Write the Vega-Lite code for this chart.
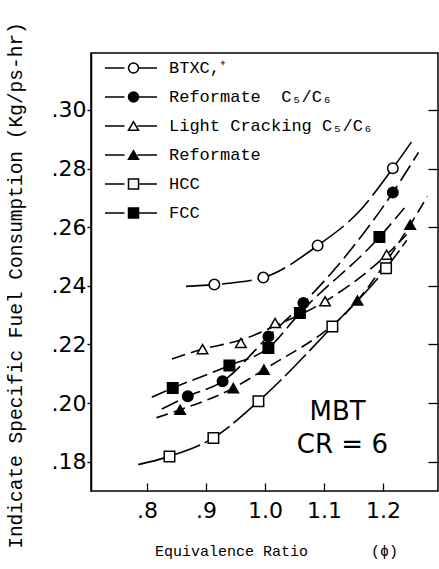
{
  "$schema": "https://vega.github.io/schema/vega-lite/v6.json",
  "width": 347,
  "height": 438,
  "autosize": "none",
  "padding": {"left": 91, "top": 53, "right": 1, "bottom": 78},
  "background": "white",
  "config": {
    "view": {"stroke": "black", "strokeWidth": 1.5},
    "axis": {"grid": false, "domainColor": "black", "tickColor": "black", "labelColor": "black", "titleColor": "black", "domainWidth": 1.5, "tickWidth": 1.3}
  },
  "resolve": {"axis": {"y": "independent"}},
  "datasets": {
    "points": [
      {"series": "BTXC,⁺", "phi": 0.914, "isfc": 0.2404},
      {"series": "BTXC,⁺", "phi": 0.997, "isfc": 0.2428},
      {"series": "BTXC,⁺", "phi": 1.089, "isfc": 0.2537},
      {"series": "BTXC,⁺", "phi": 1.2165, "isfc": 0.2801},
      {"series": "Reformate\u00a0 C₅/C₆", "phi": 0.869, "isfc": 0.2023},
      {"series": "Reformate\u00a0 C₅/C₆", "phi": 0.928, "isfc": 0.2074},
      {"series": "Reformate\u00a0 C₅/C₆", "phi": 1.0056, "isfc": 0.2227},
      {"series": "Reformate\u00a0 C₅/C₆", "phi": 1.065, "isfc": 0.2341},
      {"series": "Reformate\u00a0 C₅/C₆", "phi": 1.2165, "isfc": 0.2718},
      {"series": "Light Cracking C₅/C₆", "phi": 0.894, "isfc": 0.2184},
      {"series": "Light Cracking C₅/C₆", "phi": 0.959, "isfc": 0.2205},
      {"series": "Light Cracking C₅/C₆", "phi": 1.017, "isfc": 0.2273},
      {"series": "Light Cracking C₅/C₆", "phi": 1.1017, "isfc": 0.2347},
      {"series": "Light Cracking C₅/C₆", "phi": 1.206, "isfc": 0.2506},
      {"series": "Reformate", "phi": 0.856, "isfc": 0.1977},
      {"series": "Reformate", "phi": 0.946, "isfc": 0.2051},
      {"series": "Reformate", "phi": 0.998, "isfc": 0.2114},
      {"series": "Reformate", "phi": 1.1565, "isfc": 0.235},
      {"series": "Reformate", "phi": 1.2458, "isfc": 0.2608},
      {"series": "HCC", "phi": 0.838, "isfc": 0.1818},
      {"series": "HCC", "phi": 0.9124, "isfc": 0.1881},
      {"series": "HCC", "phi": 0.9887, "isfc": 0.2006},
      {"series": "HCC", "phi": 1.114, "isfc": 0.2261},
      {"series": "HCC", "phi": 1.205, "isfc": 0.246},
      {"series": "FCC", "phi": 0.8435, "isfc": 0.2051},
      {"series": "FCC", "phi": 0.9395, "isfc": 0.2128},
      {"series": "FCC", "phi": 1.0056, "isfc": 0.2188},
      {"series": "FCC", "phi": 1.059, "isfc": 0.2307},
      {"series": "FCC", "phi": 1.1937, "isfc": 0.2566}
    ],
    "curves": [
      {"series": "BTXC,⁺", "phi": 0.866, "isfc": 0.2398},
      {"series": "BTXC,⁺", "phi": 0.914, "isfc": 0.2404},
      {"series": "BTXC,⁺", "phi": 0.997, "isfc": 0.2428},
      {"series": "BTXC,⁺", "phi": 1.089, "isfc": 0.2537},
      {"series": "BTXC,⁺", "phi": 1.16, "isfc": 0.2655},
      {"series": "BTXC,⁺", "phi": 1.2165, "isfc": 0.2801},
      {"series": "BTXC,⁺", "phi": 1.253, "isfc": 0.2905},
      {"series": "Reformate\u00a0 C₅/C₆", "phi": 0.825, "isfc": 0.198},
      {"series": "Reformate\u00a0 C₅/C₆", "phi": 0.869, "isfc": 0.2023},
      {"series": "Reformate\u00a0 C₅/C₆", "phi": 0.928, "isfc": 0.2074},
      {"series": "Reformate\u00a0 C₅/C₆", "phi": 1.0056, "isfc": 0.2227},
      {"series": "Reformate\u00a0 C₅/C₆", "phi": 1.065, "isfc": 0.2341},
      {"series": "Reformate\u00a0 C₅/C₆", "phi": 1.14, "isfc": 0.251},
      {"series": "Reformate\u00a0 C₅/C₆", "phi": 1.2165, "isfc": 0.2718},
      {"series": "Reformate\u00a0 C₅/C₆", "phi": 1.26, "isfc": 0.2855},
      {"series": "Light Cracking C₅/C₆", "phi": 0.842, "isfc": 0.215},
      {"series": "Light Cracking C₅/C₆", "phi": 0.894, "isfc": 0.2184},
      {"series": "Light Cracking C₅/C₆", "phi": 0.959, "isfc": 0.2215},
      {"series": "Light Cracking C₅/C₆", "phi": 1.017, "isfc": 0.2263},
      {"series": "Light Cracking C₅/C₆", "phi": 1.1017, "isfc": 0.2347},
      {"series": "Light Cracking C₅/C₆", "phi": 1.206, "isfc": 0.2506},
      {"series": "Light Cracking C₅/C₆", "phi": 1.24, "isfc": 0.2575},
      {"series": "Reformate", "phi": 0.816, "isfc": 0.195},
      {"series": "Reformate", "phi": 0.856, "isfc": 0.1977},
      {"series": "Reformate", "phi": 0.946, "isfc": 0.2051},
      {"series": "Reformate", "phi": 0.998, "isfc": 0.2114},
      {"series": "Reformate", "phi": 1.1565, "isfc": 0.235},
      {"series": "Reformate", "phi": 1.2458, "isfc": 0.2608},
      {"series": "Reformate", "phi": 1.275, "isfc": 0.2705},
      {"series": "HCC", "phi": 0.785, "isfc": 0.179},
      {"series": "HCC", "phi": 0.838, "isfc": 0.1818},
      {"series": "HCC", "phi": 0.9124, "isfc": 0.1881},
      {"series": "HCC", "phi": 0.9887, "isfc": 0.2006},
      {"series": "HCC", "phi": 1.114, "isfc": 0.2261},
      {"series": "HCC", "phi": 1.205, "isfc": 0.246},
      {"series": "HCC", "phi": 1.24, "isfc": 0.2555},
      {"series": "FCC", "phi": 0.808, "isfc": 0.202},
      {"series": "FCC", "phi": 0.8435, "isfc": 0.2051},
      {"series": "FCC", "phi": 0.9395, "isfc": 0.2128},
      {"series": "FCC", "phi": 1.0056, "isfc": 0.2188},
      {"series": "FCC", "phi": 1.059, "isfc": 0.2307},
      {"series": "FCC", "phi": 1.1937, "isfc": 0.2566},
      {"series": "FCC", "phi": 1.236, "isfc": 0.2665}
    ]
  },
  "layer": [
    {
      "data": {"name": "curves"},
      "mark": {"type": "line", "interpolate": "monotone", "strokeWidth": 1.6, "clip": true},
      "encoding": {
        "x": {"field": "phi", "type": "quantitative", "scale": {"domain": [0.705, 1.293], "nice": false, "zero": false},
          "axis": {"values": [0.8, 0.9, 1.0, 1.1, 1.2], "labelExpr": "datum.value < 1 ? replace(format(datum.value, '.1f'), '0.', '.') : format(datum.value, '.1f')",
            "domain": false, "offset": -8, "tickSize": 8, "labelPadding": 9, "labelFont": "DejaVu Sans", "labelFontSize": 22, "labelFontWeight": "normal",
            "title": "Equivalence Ratio\u00a0\u00a0\u00a0\u00a0\u00a0\u00a0 (ϕ)", "titleFont": "Liberation Mono", "titleFontSize": 15, "titleFontWeight": "normal",
            "titleX": 185, "titleY": 67, "titleBaseline": "middle"}},
        "y": {"field": "isfc", "type": "quantitative", "scale": {"domain": [0.170, 0.3194], "nice": false, "zero": false},
          "axis": {"orient": "left", "values": [0.18, 0.2, 0.22, 0.24, 0.26, 0.28, 0.3], "labelExpr": "replace(format(datum.value, '.2f'), '0.', '.')",
            "tickSize": 4, "labelPadding": 1, "labelFont": "DejaVu Sans", "labelFontSize": 22,
            "title": "Indicate Specific Fuel Consumption (Kg/ps-hr)", "titleFont": "Liberation Mono", "titleFontSize": 19.5, "titleFontWeight": "normal",
            "titleX": -76, "titleY": 232, "titleBaseline": "middle", "titleAngle": -90}},
        "detail": {"field": "series"},
        "color": {"field": "series", "type": "nominal",
          "scale": {"domain": ["HCC", "FCC", "BTXC,⁺", "Reformate", "Reformate\u00a0 C₅/C₆", "Light Cracking C₅/C₆"],
            "range": ["black", "black", "black", "black", "black", "black"]},
          "legend": {
            "title": null, "orient": "none", "legendX": 13, "legendY": 5, "padding": 0,
            "symbolType": "M-1,0H-0.25M0.25,0H1", "symbolSize": 2704, "symbolStrokeWidth": 1.5,
            "labelExpr": "''", "labelFontSize": 17, "labelOffset": 6,
            "clipHeight": 20, "rowPadding": 9
          }},
        "strokeDash": {"field": "series", "type": "nominal", "legend": null,
          "scale": {"domain": ["FCC", "HCC", "Reformate", "Light Cracking C₅/C₆", "Reformate\u00a0 C₅/C₆", "BTXC,⁺"],
            "range": [[16, 6], [30, 5], [12, 6], [14, 6], [18, 6], [30, 6]]}}
      }
    },
    {
      "data": {"name": "curves"},
      "mark": {"type": "rule", "opacity": 0},
      "encoding": {
        "y": {"field": "isfc", "type": "quantitative",
          "axis": {"orient": "right", "values": [0.18, 0.2, 0.22, 0.24, 0.26, 0.28, 0.3], "labels": false, "domain": false, "offset": -10, "tickSize": 10, "title": null}}
      }
    },
    {
      "data": {"name": "points"},
      "mark": {"type": "point", "filled": false, "stroke": "black", "strokeWidth": 1.5, "opacity": 1, "size": 110},
      "encoding": {
        "x": {"field": "phi", "type": "quantitative"},
        "y": {"field": "isfc", "type": "quantitative", "axis": null},
        "shape": {"field": "series", "type": "nominal", "title": null,
          "scale": {"domain": ["BTXC,⁺", "Reformate\u00a0 C₅/C₆", "Light Cracking C₅/C₆", "Reformate", "HCC", "FCC"],
            "range": ["circle", "circle", "triangle-up", "triangle-up", "square", "square"]}},
        "fill": {"field": "series", "type": "nominal", "title": null,
          "scale": {"domain": ["BTXC,⁺", "Reformate\u00a0 C₅/C₆", "Light Cracking C₅/C₆", "Reformate", "HCC", "FCC"],
            "range": ["white", "black", "white", "black", "white", "black"]},
          "legend": {
            "title": null,
            "orient": "none", "legendX": 34, "legendY": 5, "padding": 0,
            "symbolSize": 100, "symbolStrokeWidth": 1.5, "symbolStrokeColor": "black",
            "labelFont": "Liberation Mono", "labelFontSize": 17, "labelColor": "black", "labelOffset": 27, "labelLimit": 300,
            "clipHeight": 20, "rowPadding": 9,
            "encode": {"symbols": {
              "stroke": {"value": "black"}, "strokeWidth": {"value": 1.5}
            }}
          }}
      }
    },
    {
      "data": {"values": [{}]},
      "mark": {"type": "text", "font": "DejaVu Sans", "fontSize": 26, "align": "center", "baseline": "alphabetic", "color": "black"},
      "encoding": {"x": {"datum": 1.123, "type": "quantitative"}, "y": {"datum": 0.1943, "type": "quantitative", "axis": null}, "text": {"value": "MBT"}}
    },
    {
      "data": {"values": [{}]},
      "mark": {"type": "text", "font": "DejaVu Sans", "fontSize": 26, "align": "center", "baseline": "alphabetic", "color": "black"},
      "encoding": {"x": {"datum": 1.131, "type": "quantitative"}, "y": {"datum": 0.1831, "type": "quantitative", "axis": null}, "text": {"value": "CR = 6"}}
    }
  ]
}
